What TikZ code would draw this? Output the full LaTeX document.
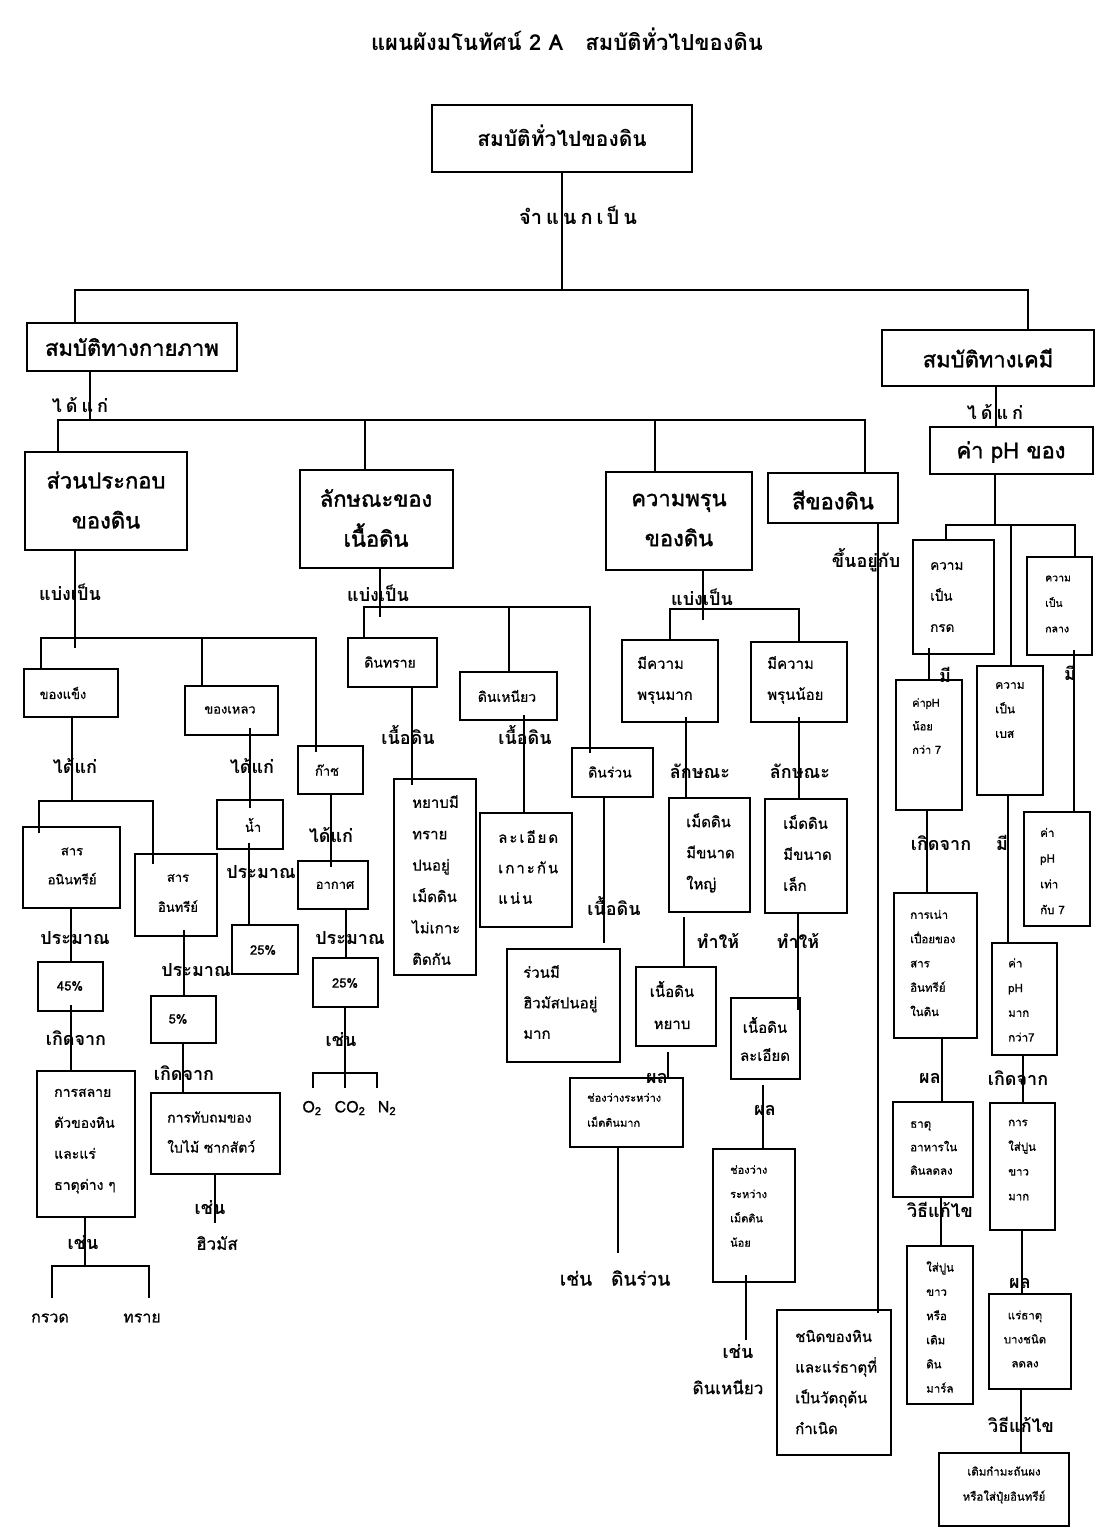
\documentclass[tikz,border=0pt]{standalone}
\usepackage{fontspec}
\setmainfont[Script=Thai]{Loma}
\usetikzlibrary{calc}
\newcommand\fs[2]{\fontsize{#1}{#2}\selectfont}
\newcommand\fb[2]{\fontsize{#1}{#2}\selectfont\addfontfeature{FakeBold=1.6}}
\newcommand\fm[2]{\fontsize{#1}{#2}\selectfont\addfontfeature{FakeBold=0.8}}
\newcommand\BX[5]{\node[bx, minimum width={#4pt-#2pt}, minimum height={#5pt-#3pt}] (#1) at (#2,#3) {};}
\tikzset{
  bx/.style={draw, line width=1.5pt, inner sep=0pt, outer sep=0pt, anchor=north west},
  ln/.style={line width=1.5pt},
  tx/.style={inner sep=0pt, align=left, anchor=west},
  tc/.style={inner sep=0pt, align=center, anchor=center},
  lb/.style={inner sep=0pt, font=\bfseries\fs{18}{22}},
  lr/.style={inner sep=0pt, font=\fm{17}{22}},
}
\begin{document}
\begin{tikzpicture}[x=1pt,y=-1pt]
\path[use as bounding box, fill=white] (0,0) rectangle (1108,1534);
% ---------- boxes ----------
\BX{root}{432}{105}{692}{172}
\BX{phys}{27}{323}{237}{371}
\BX{chem}{882}{330}{1094}{386}
\BX{comp}{25}{452}{187}{550}
\BX{text}{300}{470}{453}{568}
\BX{poro}{606}{472}{752}{570}
\BX{color}{768}{473}{898}{523}
\BX{ph}{930}{427}{1093}{474}
\BX{solid}{24}{669}{118}{717}
\BX{liquid}{185}{686}{278}{735}
\BX{gas}{298}{746}{363}{794}
\BX{inorg}{23}{827}{120}{908}
\BX{org}{135}{854}{217}{936}
\BX{water}{217}{800}{283}{849}
\BX{wpct}{232}{925}{298}{974}
\BX{air}{298}{861}{368}{909}
\BX{apct}{313}{958}{378}{1007}
\BX{ipct}{38}{962}{103}{1011}
\BX{opct}{151}{996}{216}{1043}
\BX{decomp}{37}{1071}{135}{1217}
\BX{accum}{151}{1093}{280}{1174}
\BX{sand}{348}{638}{437}{687}
\BX{clay}{460}{672}{557}{720}
\BX{loam}{572}{748}{653}{797}
\BX{sandd}{394}{779}{476}{975}
\BX{clayd}{480}{813}{572}{927}
\BX{loamd}{507}{949}{620}{1062}
\BX{pmany}{622}{640}{718}{722}
\BX{pfew}{751}{642}{847}{722}
\BX{plarge}{669}{798}{750}{912}
\BX{psmall}{765}{799}{847}{913}
\BX{coarse}{636}{967}{716}{1046}
\BX{fine}{731}{998}{800}{1079}
\BX{gapmany}{570}{1078}{683}{1147}
\BX{gapfew}{713}{1149}{795}{1282}
\BX{parent}{777}{1310}{891}{1455}
\BX{acid}{913}{540}{994}{654}
\BX{neutral}{1027}{557}{1092}{655}
\BX{base}{977}{666}{1043}{795}
\BX{lt}{896}{680}{962}{810}
\BX{eq}{1024}{812}{1090}{926}
\BX{gt}{992}{943}{1057}{1055}
\BX{decay}{894}{893}{977}{1038}
\BX{nutr}{893}{1102}{973}{1197}
\BX{lime}{907}{1246}{973}{1404}
\BX{limemuch}{990}{1103}{1055}{1230}
\BX{mineral}{989}{1294}{1071}{1389}
\BX{sulfur}{939}{1453}{1069}{1526}
% ---------- connectors ----------
\coordinate (b0l) at (75,290); \coordinate (b0r) at (1028,290);
\draw[ln] (root.south) -- (root.south |- b0l);
\draw[ln] (phys.north -| b0l) -- (b0l) -- (b0r) -- (chem.north -| b0r);
\coordinate (b1) at (90,420); \coordinate (b1a) at (58,420); \coordinate (b1b) at (365,420);
\coordinate (b1c) at (655,420); \coordinate (b1d) at (865,420);
\draw[ln] (phys.south -| b1) -- (b1);
\draw[ln] (comp.north -| b1a) -- (b1a) -- (b1d) -- (color.north -| b1d);
\draw[ln] (b1b) -- (text.north -| b1b);
\draw[ln] (b1c) -- (poro.north -| b1c);
\coordinate (c1) at (996,0);
\draw[ln] (chem.south -| c1) -- (ph.north -| c1);
% composition
\coordinate (b2) at (75,648); \coordinate (b2a) at (41,638); \coordinate (b2b) at (202,638); \coordinate (b2c) at (316,638);
\draw[ln] (comp.south -| b2) -- (b2);
\draw[ln] (solid.north -| b2a) -- (b2a) -- (b2c) -- ($(gas.north -| b2c)+(0,6)$);
\draw[ln] (b2b) -- (liquid.north -| b2b);
\coordinate (b3) at (72,801); \coordinate (b3a) at (39,801); \coordinate (b3b) at (153,801);
\draw[ln] (solid.south -| b3) -- (b3);
\draw[ln] ($(inorg.north -| b3a)+(0,6)$) -- (b3a) -- (b3b) -- ($(org.north -| b3b)+(0,10)$);
\coordinate (c2) at (250,0);
\draw[ln] ($(liquid.south -| c2)+(0,-7)$) -- ($(water.north -| c2)+(0,8)$);
\coordinate (c3) at (331,0);
\draw[ln] (gas.south -| c3) -- ($(air.north -| c3)+(0,6)$);
\coordinate (c4) at (71,0);
\draw[ln] (inorg.south -| c4) -- (ipct.north -| c4);
\coordinate (c5) at (184,0);
\draw[ln] ($(org.south -| c5)+(0,-6)$) -- (opct.north -| c5);
\coordinate (c6) at (249,0);
\draw[ln] ($(water.south -| c6)+(0,-6)$) -- (wpct.north -| c6);
\coordinate (c7) at (346,0);
\draw[ln] (air.south -| c7) -- (apct.north -| c7);
\draw[ln] ($(ipct.south -| c4)+(0,-6)$) -- (decomp.north -| c4);
\coordinate (c8) at (183,0);
\draw[ln] (opct.south -| c8) -- (accum.north -| c8);
\coordinate (e1) at (215,1223);
\draw[ln] (accum.south -| e1) -- (e1);
\coordinate (b4) at (85,1266); \coordinate (b4a) at (52,1266); \coordinate (b4b) at (149,1266);
\coordinate (e2) at (52,1298); \coordinate (e3) at (149,1298);
\draw[ln] (decomp.south -| b4) -- (b4);
\draw[ln] (e2) -- (b4a) -- (b4b) -- (e3);
\coordinate (b5) at (345,1073); \coordinate (b5a) at (313,1073); \coordinate (b5b) at (377,1073);
\draw[ln] (apct.south -| b5) -- (b5) -- ++(0,15);
\draw[ln] (b5a) ++(0,15) -- (b5a) -- (b5b) -- ++(0,15);
% texture
\coordinate (b6) at (380,617); \coordinate (b6a) at (364,607); \coordinate (b6b) at (509,607); \coordinate (b6c) at (590,607);
\draw[ln] (text.south -| b6) -- (b6);
\draw[ln] (sand.north -| b6a) -- (b6a) -- (b6c) -- ($(loam.north -| b6c)+(0,5)$);
\draw[ln] (b6b) -- (clay.north -| b6b);
\coordinate (c9) at (412,0);
\draw[ln] (sand.south -| c9) -- ($(sandd.north -| c9)+(0,6)$);
\coordinate (c10) at (524,0);
\draw[ln] ($(clay.south -| c10)+(0,-5)$) -- (clayd.north -| c10);
\coordinate (c11) at (604,0);
\draw[ln] (loam.south -| c11) -- ($(loamd.north -| c11)+(0,-6)$);
% porosity
\coordinate (b7) at (703,620); \coordinate (b7a) at (670,609); \coordinate (b7b) at (799,609);
\draw[ln] (poro.south -| b7) -- (b7);
\draw[ln] (pmany.north -| b7a) -- (b7a) -- (b7b) -- (pfew.north -| b7b);
\coordinate (c12) at (686,0);
\draw[ln] ($(pmany.south -| c12)+(0,-5)$) -- (plarge.north -| c12);
\coordinate (c13) at (799,0);
\draw[ln] ($(pfew.south -| c13)+(0,-5)$) -- (psmall.north -| c13);
\coordinate (c14) at (684,0);
\draw[ln] ($(plarge.south -| c14)+(0,5)$) -- (coarse.north -| c14);
\coordinate (c15) at (798,0);
\draw[ln] (psmall.south -| c15) -- ($(fine.north -| c15)+(0,12)$);
\coordinate (c16) at (668,0);
\draw[ln] ($(coarse.south -| c16)+(0,6)$) -- (gapmany.north -| c16);
\coordinate (c17) at (763,0);
\draw[ln] ($(fine.south -| c17)+(0,6)$) -- (gapfew.north -| c17);
\coordinate (e4) at (618,1253);
\draw[ln] (gapmany.south -| e4) -- (e4);
\coordinate (e5) at (746,1340);
\draw[ln] ($(gapfew.south -| e5)+(0,-7)$) -- (e5);
% colour
\coordinate (c18) at (878,0);
\draw[ln] (color.south -| c18) -- ($(parent.north -| c18)+(0,3)$);
% pH
\coordinate (b8) at (995,525); \coordinate (b8a) at (946,525); \coordinate (b8b) at (1011,525); \coordinate (b8c) at (1075,525);
\draw[ln] (ph.south -| b8) -- (b8);
\draw[ln] (acid.north -| b8a) -- (b8a) -- (b8c) -- (neutral.north -| b8c);
\draw[ln] (b8b) -- (base.north -| b8b);
\coordinate (c19) at (929,0);
\draw[ln] ($(acid.south -| c19)+(0,-6)$) -- (lt.north -| c19);
\coordinate (c20) at (1074,0);
\draw[ln] ($(neutral.south -| c20)+(0,-5)$) -- (eq.north -| c20);
\coordinate (c21) at (1008,0);
\draw[ln] (base.south -| c21) -- (gt.north -| c21);
\coordinate (c22) at (927,0);
\draw[ln] (lt.south -| c22) -- (decay.north -| c22);
\coordinate (c23) at (942,0);
\draw[ln] (decay.south -| c23) -- (nutr.north -| c23);
\coordinate (c24) at (941,0);
\draw[ln] (nutr.south -| c24) -- (lime.north -| c24);
\coordinate (c25) at (1023,0);
\draw[ln] (gt.south -| c25) -- (limemuch.north -| c25);
\coordinate (c26) at (1022,0);
\draw[ln] (limemuch.south -| c26) -- (mineral.north -| c26);
\coordinate (c27) at (1021,0);
\draw[ln] (mineral.south -| c27) -- (sulfur.north -| c27);
% ---------- texts ----------
\node[inner sep=0pt, font=\bfseries\fs{22}{26}] (title) at (567,39) {แผนผังมโนทัศน์ 2 A\quad สมบัติทั่วไปของดิน};
\node[inner sep=0pt, font=\bfseries\fs{21}{26}] (t-root) at (562,136) {สมบัติทั่วไปของดิน};
\node[lb, font=\bfseries\fs{20}{24}] (l-class) at (578,215) {จำ\kern4pt แ\kern4pt น\kern4pt ก\kern4pt เ\kern3pt ป็\kern4pt น};
\node[tc, font=\fb{22}{40}] (t-phys) at (132,347) {สมบัติทางกายภาพ};
\node[tc, font=\fb{22}{40}] (t-chem) at (988,358) {สมบัติทางเคมี};
\node[tc, font=\fb{22}{40}] (t-comp) at (106,500) {ส่วนประกอบ\\ของดิน};
\node[tc, font=\fb{22}{40}] (t-text) at (376,518) {ลักษณะของ\\เนื้อดิน};
\node[tc, font=\fb{22}{40}] (t-poro) at (679,520) {ความพรุน\\ของดิน};
\node[tc, font=\fb{22}{40}] (t-color) at (833,500) {สีของดิน};
\node[tc, font=\fb{22}{40}] (t-ph) at (1011,452) {ค่า pH ของ};
% connector labels
\node[lb] (l1) at (80,405) {ไ\kern4pt ด้\kern4pt แ\kern4pt ก่};
\node[lb] (l2) at (995,412) {ไ\kern4pt ด้\kern4pt แ\kern4pt ก่};
\node[lb] (l3) at (70,592) {แบ่งเป็น};
\node[lb] (l4) at (378,593) {แบ่งเป็น};
\node[lb] (l5) at (702,597) {แบ่งเป็น};
\node[lb] (l6) at (866,560) {ขึ้นอยู่กับ};
\node[lb] (l7) at (75,766) {ได้แก่};
\node[lb] (l8) at (252,766) {ได้แก่};
\node[lb] (l9) at (331,835) {ได้แก่};
\node[lb] (l10) at (75,938) {ประมาณ};
\node[lb] (l11) at (196,970) {ประมาณ};
\node[lb] (l12) at (261,872) {ประมาณ};
\node[lb] (l13) at (350,938) {ประมาณ};
\node[lb] (l14) at (76,1038) {เกิดจาก};
\node[lb] (l15) at (184,1073) {เกิดจาก};
\node[lb] (l16) at (83,1243) {เช่น};
\node[lb] (l17) at (210,1208) {เช่น};
\node[lb] (l18) at (341,1040) {เช่น};
\node[lb] (l19) at (408,735) {เนื้อดิน};
\node[lb] (l20) at (525,735) {เนื้อดิน};
\node[lb] (l21) at (614,906) {เนื้อดิน};
\node[lb] (l22) at (700,771) {ลักษณะ};
\node[lb] (l23) at (800,771) {ลักษณะ};
\node[lb] (l24) at (718,941) {ทำให้};
\node[lb] (l25) at (798,941) {ทำให้};
\node[lb] (l26) at (657,1078) {ผล};
\node[lb] (l27) at (765,1110) {ผล};
\node[lb] (l28) at (738,1352) {เช่น};
\node[lb] (l29) at (945,675) {มี};
\node[lb] (l30) at (1070,673) {มี};
\node[lb] (l31) at (1002,843) {มี};
\node[lb] (l32) at (941,843) {เกิดจาก};
\node[lb] (l33) at (1018,1078) {เกิดจาก};
\node[lb] (l34) at (930,1078) {ผล};
\node[lb] (l35) at (1020,1283) {ผล};
\node[lb] (l36) at (940,1210) {วิธีแก้ไข};
\node[lb] (l37) at (1021,1425) {วิธีแก้ไข};
% free texts
\node[lr] (f1) at (217,1243) {ฮิวมัส};
\node[lr, font=\fm{16}{20}] (f2) at (50,1318) {กรวด};
\node[lr, font=\fm{16}{20}] (f3) at (142,1318) {ทราย};
\node[lr, font=\fm{16}{20}] (f4) at (312,1108) {O\textsubscript{2}};
\node[lr, font=\fm{16}{20}] (f5) at (350,1108) {CO\textsubscript{2}};
\node[lr, font=\fm{16}{20}] (f6) at (387,1108) {N\textsubscript{2}};
\node[lr, font=\fm{19}{22}] (f7) at (615,1278) {เช่น\quad ดินร่วน};
\node[lr] (f8) at (728,1387) {ดินเหนียว};
% small box texts
\node[tc, font=\fm{13}{24}] at (63,693) {ของแข็ง};
\node[tc, font=\fm{13}{24}] at (230,710) {ของเหลว};
\node[tc, font=\fm{13}{24}] at (327,770) {ก๊าซ};
\node[tc, font=\fm{13}{24}] at (253,825) {น้ำ};
\node[tc, font=\fm{13}{24}] at (335,885) {อากาศ};
\node[tc, font=\fm{13}{24}] at (263,950) {25\%};
\node[tc, font=\fm{13}{24}] at (345,983) {25\%};
\node[tc, font=\fm{13}{24}] at (70,986) {45\%};
\node[tc, font=\fm{13}{24}] at (178,1019) {5\%};
\node[tc, font=\fm{13}{29}] at (72,866) {สาร\\อนินทรีย์};
\node[tc, font=\fm{13}{30}] at (178,893) {สาร\\อินทรีย์};
\node[tx, font=\fm{14}{31}] at (54,1141) {การสลาย\\ตัวของหิน\\และแร่\\ธาตุต่าง ๆ};
\node[tx, font=\fm{14}{30}] at (167,1132) {การทับถมของ\\ใบไม้ ซากสัตว์};
\node[tc, font=\fm{14}{24}] at (390,662) {ดินทราย};
\node[tc, font=\fm{14}{24}] at (507,696) {ดินเหนียว};
\node[tc, font=\fm{14}{24}] at (610,772) {ดินร่วน};
\node[tx, font=\fm{15}{31.4}] at (412,880) {หยาบมี\\ทราย\\ปนอยู่\\เม็ดดิน\\ไม่เกาะ\\ติดกัน};
\node[tx, font=\fm{15}{30.5}] at (498,867) {ล\kern2pt ะ\kern2pt เ\kern2pt อี\kern2pt ย\kern2pt ด\\เ\kern2pt ก\kern2pt า\kern2pt ะ\kern2pt กั\kern2pt น\\แ\kern2pt น่\kern2pt น};
\node[tx, font=\fm{15}{30.5}] at (523,1002) {ร่วนมี\\ฮิวมัสปนอยู่\\มาก};
\node[tx, font=\fm{15}{31}] at (637,680) {มีความ\\พรุนมาก};
\node[tx, font=\fm{15}{31}] at (767,680) {มีความ\\พรุนน้อย};
\node[tx, font=\fm{15}{31}] at (686,853) {เม็ดดิน\\มีขนาด\\ใหญ่};
\node[tx, font=\fm{15}{31}] at (783,853) {เม็ดดิน\\มีขนาด\\เล็ก};
\node[tc, font=\fm{15}{32}] at (672,1005) {เนื้อดิน\\หยาบ};
\node[tc, font=\fm{15}{28}] at (765,1039) {เนื้อดิน\\ละเอียด};
\node[tx, font=\fm{11}{25}] at (587,1110) {ช่องว่างระหว่าง\\เม็ดดินมาก};
\node[tx, font=\fm{11}{24.3}] at (730,1206) {ช่องว่าง\\ระหว่าง\\เม็ดดิน\\น้อย};
\node[tx, font=\fm{15}{30.7}] at (795,1382) {ชนิดของหิน\\และแร่ธาตุที่\\เป็นวัตถุต้น\\กำเนิด};
\node[tx, font=\fm{13.5}{31}] at (930,597) {ความ\\เป็น\\กรด};
\node[tx, font=\fm{10.5}{25.5}] at (1045,604) {ความ\\เป็น\\กลาง};
\node[tx, font=\fm{12}{24.5}] at (995,710) {ความ\\เป็น\\เบส};
\node[tx, font=\fm{11}{23.5}] at (912,726) {ค่าpH\\น้อย\\กว่า 7};
\node[tx, font=\fm{11.5}{25.7}] at (1040,871) {ค่า\\pH\\เท่า\\กับ 7};
\node[tx, font=\fm{11.5}{24.7}] at (1008,1000) {ค่า\\pH\\มาก\\กว่า7};
\node[tx, font=\fm{11.5}{24.3}] at (910,963) {การเน่า\\เปื่อยของ\\สาร\\อินทรีย์\\ในดิน};
\node[tx, font=\fm{11.5}{23.5}] at (910,1148) {ธาตุ\\อาหารใน\\ดินลดลง};
\node[tx, font=\fm{11.5}{24.2}] at (926,1327) {ใส่ปูน\\ขาว\\หรือ\\เติม\\ดิน\\มาร์ล};
\node[tx, font=\fm{11.5}{24.7}] at (1008,1160) {การ\\ใส่ปูน\\ขาว\\มาก};
\node[tc, font=\fm{11.5}{24}] at (1025,1339) {แร่ธาตุ\\บางชนิด\\ลดลง};
\node[tc, font=\fm{11.5}{25}] at (1004,1485) {เติมกำมะถันผง\\หรือใส่ปุ๋ยอินทรีย์};
\end{tikzpicture}
\end{document}
